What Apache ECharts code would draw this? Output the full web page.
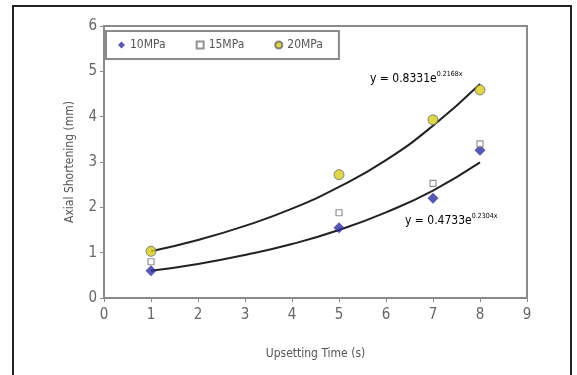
<!DOCTYPE html>
<html><head><meta charset="utf-8">
<script src="https://cdn.jsdelivr.net/npm/echarts@6/dist/echarts.min.js"></script>
<style>html,body{margin:0;padding:0;background:#fff}#c{width:577px;height:375px}</style>
</head><body><div id="c"></div>
<script>
const times = [1, 5, 7, 8];
const s10 = [0.6, 1.55, 2.2, 3.26];
const s15 = [0.8, 1.88, 2.53, 3.4];
const s20 = [1.03, 2.72, 3.93, 4.59];
const trendX = [1, 2, 3, 4, 5, 6, 7, 8];
const trendUpper = [1.03, 1.28, 1.59, 1.97, 2.45, 3.04, 3.8, 4.72];
const trendLower = [0.6, 0.75, 0.95, 1.19, 1.5, 1.89, 2.37, 2.99];
const xTicks = [0,1,2,3,4,5,6,7,8,9];
const yTicks = [0,1,2,3,4,5,6];

const F = '"DejaVu Sans Condensed", "Liberation Sans Narrow", sans-serif';
const chart = echarts.init(document.getElementById('c'));
const pair = (xs, ys) => xs.map((x, i) => [x, ys[i]]);
chart.setOption({
  animation: false,
  grid: {left: 104, top: 26, right: 50, bottom: 77, show: true, borderColor: '#8a8a8a', borderWidth: 2},
  xAxis: {type: 'value', min: 0, max: 9, interval: 1,
    name: 'Upsetting Time (s)', nameLocation: 'middle', nameGap: 50,
    nameTextStyle: {fontFamily: F, fontSize: 12, color: '#555'},
    axisLine: {lineStyle: {color: '#8a8a8a', width: 2}},
    axisTick: {show: true, length: 4, lineStyle: {color: '#8a8a8a'}},
    axisLabel: {fontFamily: F, fontSize: 15, color: '#666', margin: 10},
    splitLine: {show: false}},
  yAxis: {type: 'value', min: 0, max: 6, interval: 1,
    name: 'Axial Shortening (mm)', nameLocation: 'middle', nameGap: 28, nameRotate: 90,
    nameTextStyle: {fontFamily: F, fontSize: 12, color: '#555'},
    axisLine: {show: true, lineStyle: {color: '#8a8a8a', width: 2}},
    axisTick: {show: true, length: 4, lineStyle: {color: '#8a8a8a'}},
    axisLabel: {fontFamily: F, fontSize: 15, color: '#666', margin: 7},
    splitLine: {show: false}},
  legend: {left: 106, top: 31, itemGap: 30, padding: [8, 16, 8, 12],
    borderColor: '#8a8a8a', borderWidth: 2, itemWidth: 7, itemHeight: 7,
    textStyle: {fontFamily: F, fontSize: 12, color: '#555'},
    data: ['10MPa', '15MPa', '20MPa']},
  series: [
    {type: 'line', data: pair(trendX, trendUpper), smooth: true, symbol: 'none', lineStyle: {color: '#222', width: 2}, silent: true, z: 1},
    {type: 'line', data: pair(trendX, trendLower), smooth: true, symbol: 'none', lineStyle: {color: '#222', width: 2}, silent: true, z: 1},
    {name: '10MPa', type: 'scatter', data: pair(times, s10), symbol: 'diamond', symbolSize: 11,
      itemStyle: {color: '#2e2ea0'}, z: 3},
    {name: '15MPa', type: 'scatter', data: pair(times, s15), symbol: 'rect', symbolSize: 6,
      itemStyle: {color: '#fff', borderColor: '#777', borderWidth: 1.2}, z: 3},
    {name: '20MPa', type: 'scatter', data: pair(times, s20), symbol: 'circle', symbolSize: 10,
      itemStyle: {color: '#d8cc1e', borderColor: '#666', borderWidth: 1}, z: 3}
  ],
  graphic: [
    {type: 'rect', shape: {x: 13, y: 6, width: 558, height: 380}, style: {fill: 'none', stroke: '#222', lineWidth: 2}, silent: true},
    {type: 'text', left: 370, top: 71, style: {text: '{a|y = 0.8331e}{b|0.2168x}', rich: {
      a: {fontFamily: F, fontSize: 12, color: '#555'}, b: {fontFamily: F, fontSize: 7, color: '#555', verticalAlign: 'top', padding: [0,0,8,0]}}}},
    {type: 'text', left: 405, top: 213, style: {text: '{a|y = 0.4733e}{b|0.2304x}', rich: {
      a: {fontFamily: F, fontSize: 12, color: '#555'}, b: {fontFamily: F, fontSize: 7, color: '#555', verticalAlign: 'top', padding: [0,0,8,0]}}}}
  ]
});
</script></body></html>
